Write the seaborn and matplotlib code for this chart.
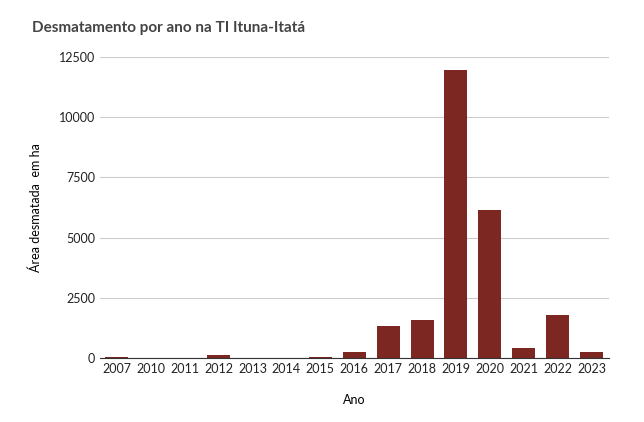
import matplotlib
matplotlib.use("Agg")
import matplotlib.pyplot as plt
import seaborn as sns
import pandas as pd

anos = ["2007", "2010", "2011", "2012", "2013", "2014", "2015", "2016",
        "2017", "2018", "2019", "2020", "2021", "2022", "2023"]
area = [50, 5, 5, 100, 5, 5, 50, 240, 1330, 1580, 11950, 6140, 420, 1790, 250]

df = pd.DataFrame({"Ano": anos, "Area": area})

plt.rcParams.update({"font.family": "Lato", "font.size": 9})

fig = plt.figure(figsize=(6.44, 4.22), dpi=100)
ax = fig.add_axes([0.155, 0.152, 0.79, 0.713])

sns.barplot(data=df, x="Ano", y="Area", color="#8b1a13", width=0.68, ax=ax)

ax.set_ylim(0, 12500)
ax.set_yticks(range(0, 12501, 2500))
ax.grid(axis="y", color="#cccccc", linewidth=0.8)
ax.set_axisbelow(True)
for s in ["top", "right", "left"]:
    ax.spines[s].set_visible(False)
ax.spines["bottom"].set_color("#333333")
ax.tick_params(length=0, labelcolor="#222222")
ax.set_xlabel("Ano", labelpad=14)
ax.set_ylabel("Área desmatada  em ha", labelpad=12)

fig.text(0.05, 0.925, "Desmatamento por ano na TI Ituna-Itatá",
         fontsize=11, fontweight="bold", color="#444444")

fig.savefig("out.png", dpi=100)
